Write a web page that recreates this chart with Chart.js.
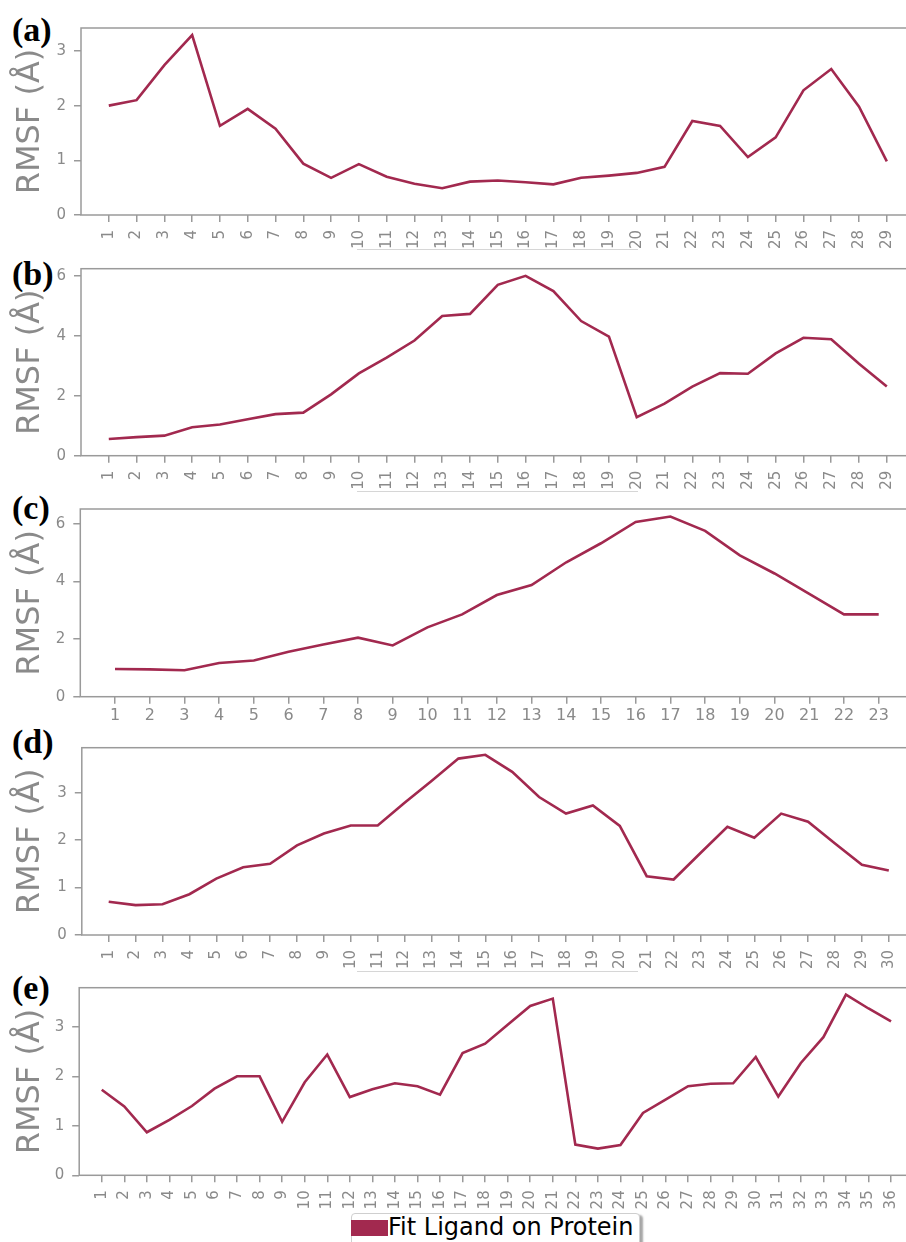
<!DOCTYPE html>
<html>
<head>
<meta charset="utf-8">
<script src="https://cdn.jsdelivr.net/npm/chart.js@4.4.1/dist/chart.umd.min.js"></script>
<style>
  html, body { margin: 0; padding: 0; background: #fff; }
  body { width: 906px; height: 1242px; overflow: hidden; position: relative; }
  canvas { position: absolute; left: 0; }
  .tag { position: absolute; font: bold 34px 'Liberation Serif', 'Times New Roman', serif; line-height: 1; color: #000; }
  .rule { position: absolute; height: 0; border-top: 1px solid #d6d6d6; }
  #legend { position: absolute; left: 351px; top: 1213px; width: 287px; height: 40px;
            border: 1px solid #cfcfcf; border-radius: 4px; background: #fff;
            box-shadow: 3px 2px 2px rgba(0,0,0,0.35); }
  #legend .patch { position: absolute; left: -1px; top: 6px; width: 37px; height: 16px; }
  #legend .ltext { position: absolute; left: 36px; top: 1px; font: 24px 'DejaVu Sans', sans-serif;
                   line-height: 1; color: #000; white-space: nowrap; }
</style>
</head>
<body>
<div class="tag" style="left:12px;top:13px">(a)</div>
<div class="tag" style="left:12px;top:257px">(b)</div>
<div class="tag" style="left:12px;top:491px">(c)</div>
<div class="tag" style="left:12px;top:725px">(d)</div>
<div class="tag" style="left:12px;top:971px">(e)</div>

<div class="rule" style="left:357px;top:249px;width:281px"></div>
<div class="rule" style="left:357px;top:491px;width:281px"></div>
<div class="rule" style="left:357px;top:971px;width:281px"></div>

<div id="legend"><span class="patch"></span><span class="ltext"></span></div>

<script>
// Series name shared by every panel
const seriesName = 'Fit Ligand on Protein';

// Residue numbers (x tick labels) per panel
const residuesA = [1,2,3,4,5,6,7,8,9,10,11,12,13,14,15,16,17,18,19,20,21,22,23,24,25,26,27,28,29];
const residuesB = [1,2,3,4,5,6,7,8,9,10,11,12,13,14,15,16,17,18,19,20,21,22,23,24,25,26,27,28,29];
const residuesC = [1,2,3,4,5,6,7,8,9,10,11,12,13,14,15,16,17,18,19,20,21,22,23];
const residuesD = [1,2,3,4,5,6,7,8,9,10,11,12,13,14,15,16,17,18,19,20,21,22,23,24,25,26,27,28,29,30];
const residuesE = [1,2,3,4,5,6,7,8,9,10,11,12,13,14,15,16,17,18,19,20,21,22,23,24,25,26,27,28,29,30,31,32,33,34,35,36];

// RMSF values (Å) per residue
const rmsfA = [2.00,2.10,2.74,3.29,1.63,1.94,1.58,0.94,0.68,0.93,0.70,0.57,0.49,0.61,0.63,0.60,0.56,0.68,0.72,0.77,0.88,1.72,1.63,1.06,1.42,2.28,2.67,1.98,0.98];
const rmsfB = [0.56,0.62,0.67,0.95,1.04,1.22,1.39,1.44,2.05,2.75,3.28,3.85,4.67,4.74,5.71,6.01,5.50,4.50,3.98,1.29,1.74,2.31,2.76,2.74,3.42,3.94,3.89,3.07,2.31];
const rmsfC = [0.96,0.95,0.92,1.17,1.26,1.56,1.81,2.05,1.78,2.41,2.86,3.53,3.88,4.67,5.33,6.07,6.26,5.76,4.91,4.28,3.57,2.86,2.86];
const rmsfD = [0.70,0.63,0.65,0.86,1.19,1.43,1.50,1.89,2.14,2.31,2.31,2.79,3.25,3.72,3.80,3.44,2.91,2.56,2.73,2.30,1.24,1.17,1.73,2.28,2.05,2.56,2.39,1.93,1.48,1.36];
const rmsfE = [1.73,1.39,0.87,1.12,1.40,1.75,2.00,2.00,1.08,1.88,2.44,1.58,1.74,1.86,1.80,1.63,2.47,2.66,3.04,3.42,3.57,0.62,0.54,0.61,1.26,1.53,1.80,1.85,1.86,2.39,1.59,2.27,2.79,3.65,3.37,3.11];

// Axis limits per panel
const yMaxes = [3.42, 6.25, 6.52, 3.95, 3.79];
const ySteps = [1, 2, 2, 1, 1];

// Styling
const LINE = '#a2294f';
const AXIS = '#9a9a9a';
const TEXT = '#8a8a8a';

// Plot-area boxes (page pixels) for the five stacked panels
const layouts = [
  { left: 81.0, right: 914.6, top: 28.0,  bottom: 215.0,  rotate: true,  xFont: 15 },
  { left: 81.0, right: 914.6, top: 268.7, bottom: 455.7,  rotate: true,  xFont: 15 },
  { left: 80.3, right: 913.4, top: 509.0, bottom: 696.7,  rotate: false, xFont: 16 },
  { left: 81.8, right: 915.7, top: 747.7, bottom: 935.0,  rotate: true,  xFont: 15 },
  { left: 79.2, right: 913.6, top: 987.7, bottom: 1175.3, rotate: true,  xFont: 15 }
];

const panels = [
  { residues: residuesA, values: rmsfA },
  { residues: residuesB, values: rmsfB },
  { residues: residuesC, values: rmsfC },
  { residues: residuesD, values: rmsfD },
  { residues: residuesE, values: rmsfE }
];

// Full box around the plot area
const framePlugin = {
  id: 'frame',
  beforeDatasetsDraw(chart) {
    const { ctx, chartArea: a } = chart;
    ctx.save();
    ctx.strokeStyle = AXIS;
    ctx.lineWidth = 1.5;
    ctx.strokeRect(a.left, a.top, a.right - a.left, a.bottom - a.top);
    ctx.restore();
  }
};

function makePanel(p, i) {
  const L = layouts[i];
  const W = 920;
  const cTop = Math.floor(L.top) - 24;
  const H = Math.ceil(L.bottom) - cTop + 46;
  const canvas = document.createElement('canvas');
  canvas.width = W;
  canvas.height = H;
  canvas.style.top = cTop + 'px';
  document.body.appendChild(canvas);

  const n = p.residues.length;
  new Chart(canvas, {
    type: 'line',
    data: {
      datasets: [{
        label: seriesName,
        data: p.residues.map((r, k) => ({ x: r, y: p.values[k] })),
        borderColor: LINE,
        borderWidth: 2.6,
        pointRadius: 0,
        tension: 0,
        fill: false
      }]
    },
    options: {
      responsive: false,
      animation: false,
      devicePixelRatio: 1,
      layout: { padding: { top: L.top - cTop, right: W - L.right, bottom: 0, left: 0 } },
      plugins: { legend: { display: false }, tooltip: { enabled: false } },
      scales: {
        x: {
          type: 'linear',
          min: 0,
          max: n + 1,
          border: { display: false },
          grid: { drawOnChartArea: false, drawTicks: true, tickLength: 7, color: AXIS, lineWidth: 1.5 },
          ticks: {
            stepSize: 1,
            includeBounds: false,
            autoSkip: false,
            color: TEXT,
            font: { family: 'DejaVu Sans', size: L.xFont },
            padding: L.rotate ? 8 : 3,
            minRotation: L.rotate ? 90 : 0,
            maxRotation: L.rotate ? 90 : 0
          },
          afterBuildTicks: s => { s.ticks = s.ticks.filter(t => t.value >= 1 && t.value <= n); },
          afterFit: s => { s.height = H - (L.bottom - cTop); }
        },
        y: {
          min: 0,
          max: yMaxes[i],
          border: { display: false },
          grid: { drawOnChartArea: false, drawTicks: true, tickLength: 7, color: AXIS, lineWidth: 1.5 },
          ticks: {
            stepSize: ySteps[i],
            includeBounds: false,
            color: TEXT,
            font: { family: 'DejaVu Sans', size: 15 },
            padding: 8
          },
          title: {
            display: true,
            text: 'RMSF (Å)',
            color: TEXT,
            font: { family: 'DejaVu Sans', size: 32 },
            padding: { top: 11, bottom: 0 }
          },
          afterFit: s => { s.width = L.left; }
        }
      }
    },
    plugins: [framePlugin]
  });
}

panels.forEach(makePanel);

// Legend for the shared series
document.querySelector('#legend .patch').style.background = LINE;
document.querySelector('#legend .ltext').textContent = seriesName;
</script>
</body>
</html>
